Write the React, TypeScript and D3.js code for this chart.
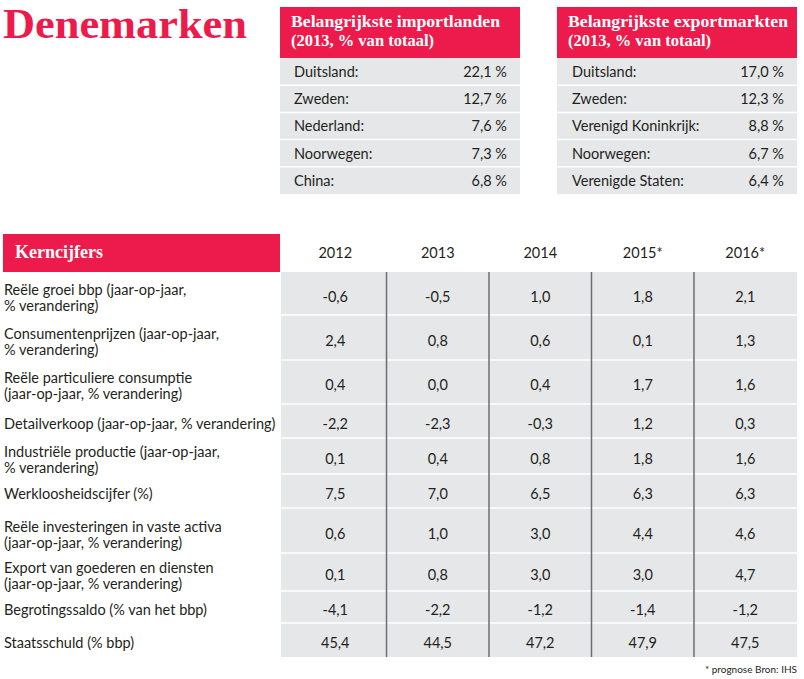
import React from "react";
import * as d3 from "d3";

// ---------- data ----------
const importCountries = ["Duitsland:", "Zweden:", "Nederland:", "Noorwegen:", "China:"];
const importShares = [22.1, 12.7, 7.6, 7.3, 6.8];
const exportCountries = ["Duitsland:", "Zweden:", "Verenigd Koninkrijk:", "Noorwegen:", "Verenigde Staten:"];
const exportShares = [17.0, 12.3, 8.8, 6.7, 6.4];

const years = ["2012", "2013", "2014", "2015*", "2016*"];
const indicators = [
  ["Reële groei bbp (jaar-op-jaar,", "% verandering)"],
  ["Consumentenprijzen (jaar-op-jaar,", "% verandering)"],
  ["Reële particuliere consumptie", "(jaar-op-jaar, % verandering)"],
  ["Detailverkoop (jaar-op-jaar, % verandering)"],
  ["Industriële productie (jaar-op-jaar,", "% verandering)"],
  ["Werkloosheidscijfer (%)"],
  ["Reële investeringen in vaste activa", "(jaar-op-jaar, % verandering)"],
  ["Export van goederen en diensten", "(jaar-op-jaar, % verandering)"],
  ["Begrotingssaldo (% van het bbp)"],
  ["Staatsschuld (% bbp)"],
];
const v2012 = [-0.6, 2.4, 0.4, -2.2, 0.1, 7.5, 0.6, 0.1, -4.1, 45.4];
const v2013 = [-0.5, 0.8, 0.0, -2.3, 0.4, 7.0, 1.0, 0.8, -2.2, 44.5];
const v2014 = [1.0, 0.6, 0.4, -0.3, 0.8, 6.5, 3.0, 3.0, -1.2, 47.2];
const v2015 = [1.8, 0.1, 1.7, 1.2, 1.8, 6.3, 4.4, 3.0, -1.4, 47.9];
const v2016 = [2.1, 1.3, 1.6, 0.3, 1.6, 6.3, 4.6, 4.7, -1.2, 47.5];
const yearValues = [v2012, v2013, v2014, v2015, v2016];

// ---------- layout / style ----------
const W = 804;
const H = 679;
const RED = "#ec1b4b";
const GREY = "#e6e7e8";
const TEXT = "#231f20";
const SANS = "Lato, 'Noto Sans', sans-serif";
const SERIF = "'Liberation Serif', serif";
const rowHeights = [43, 45, 44, 34, 36, 34, 45, 38, 32, 34];

const loc = d3.formatLocale({ decimal: ",", thousands: ".", grouping: [3], currency: ["€", ""], minus: "-" });
const fmt = loc.format(".1f");

function ShareBox({ x, title, names, shares, labelDx, valueRight, titleWidths }: any) {
  const top = 7;
  const headH = 51;
  const rowsTop = top + headH;
  const w = 240;
  const y = d3.scaleBand<number>().domain(d3.range(names.length)).range([rowsTop, 194]);
  return (
    <g>
      <rect x={x} y={top} width={w} height={headH} fill={RED} />
      {title.map((t: string, i: number) => (
        <text key={i} x={x + 11} y={27 + i * 19} fill="#fff" fontFamily={SERIF} fontWeight="bold" fontSize={17.5}
          textLength={titleWidths[i]} lengthAdjust="spacingAndGlyphs">{t}</text>
      ))}
      {names.map((n: string, i: number) => (
        <g key={i}>
          <rect x={x} y={y(i)} width={w} height={y.bandwidth()} fill={GREY} />
          {i > 0 && <line x1={x} x2={x + w} y1={y(i)} y2={y(i)} stroke="#fff" strokeWidth={1.5} />}
          <text x={x + labelDx} y={(y(i) as number) + 19} fontFamily={SANS} fontSize={14.5} fill={TEXT}>{n}</text>
          <text x={x + valueRight} y={(y(i) as number) + 19} textAnchor="end" fontFamily={SANS} fontSize={14.5} fill={TEXT}>
            {fmt(shares[i]) + " %"}
          </text>
        </g>
      ))}
    </g>
  );
}

export default function App() {
  const tableTop = 272;
  const tops = [tableTop, ...d3.cumsum(rowHeights).map((c) => tableTop + c)];
  const tableBottom = tops[tops.length - 1];
  const x = d3.scaleBand<string>().domain(years).range([284, 796.5]);
  const gx0 = 281;
  const gx1 = 797;

  return (
    <svg width={W} height={H} style={{ position: "absolute", left: 0, top: 0, background: "#fff" }}>
      <text x={3} y={37.5} fill={RED} fontFamily={SERIF} fontWeight="bold" fontSize={42}
        textLength={244} lengthAdjust="spacingAndGlyphs">Denemarken</text>

      <ShareBox x={280} title={["Belangrijkste importlanden", "(2013, % van totaal)"]} titleWidths={[209, 143]}
        names={importCountries} shares={importShares} labelDx={14} valueRight={227} />
      <ShareBox x={557} title={["Belangrijkste exportmarkten", "(2013, % van totaal)"]} titleWidths={[220, 143]}
        names={exportCountries} shares={exportShares} labelDx={15} valueRight={227} />

      {/* Kerncijfers header */}
      <rect x={3} y={234} width={277} height={38} fill={RED} />
      <text x={15} y={258} fill="#fff" fontFamily={SERIF} fontWeight="bold" fontSize={18.5}
        textLength={88} lengthAdjust="spacingAndGlyphs">Kerncijfers</text>
      {years.map((yr) => (
        <text key={yr} x={(x(yr) as number) + x.bandwidth() / 2} y={258} textAnchor="middle"
          fontFamily={SANS} fontSize={14.5} fill={TEXT}>{yr}</text>
      ))}

      {/* grey body */}
      <rect x={gx0} y={tableTop} width={gx1 - gx0} height={tableBottom - tableTop} fill={GREY} />
      {tops.slice(1, -1).map((t, i) => (
        <line key={i} x1={gx0} x2={gx1} y1={t} y2={t} stroke="#fff" strokeWidth={1.5} />
      ))}
      {years.slice(1).map((yr) => (
        <line key={yr} x1={x(yr)} x2={x(yr)} y1={tableTop} y2={tableBottom} stroke="#6d6e71" strokeWidth={1.5} />
      ))}

      {indicators.map((lines, r) => {
        const c = (tops[r] + tops[r + 1]) / 2;
        const vb = c + 8;
        return (
          <g key={r}>
            {lines.map((ln, k) => (
              <text key={k} x={4} y={lines.length === 1 ? vb : vb - 7 + k * 16} fontFamily={SANS} fontSize={14.5} fill={TEXT}>
                {ln}
              </text>
            ))}
            {years.map((yr, j) => (
              <text key={yr} x={(x(yr) as number) + x.bandwidth() / 2} y={vb} textAnchor="middle"
                fontFamily={SANS} fontSize={14.5} fill={TEXT}>{fmt(yearValues[j][r])}</text>
            ))}
          </g>
        );
      })}

      <text x={797} y={673} textAnchor="end" fontFamily={SANS} fontSize={10} fill={TEXT}>* prognose Bron: IHS</text>
    </svg>
  );
}
